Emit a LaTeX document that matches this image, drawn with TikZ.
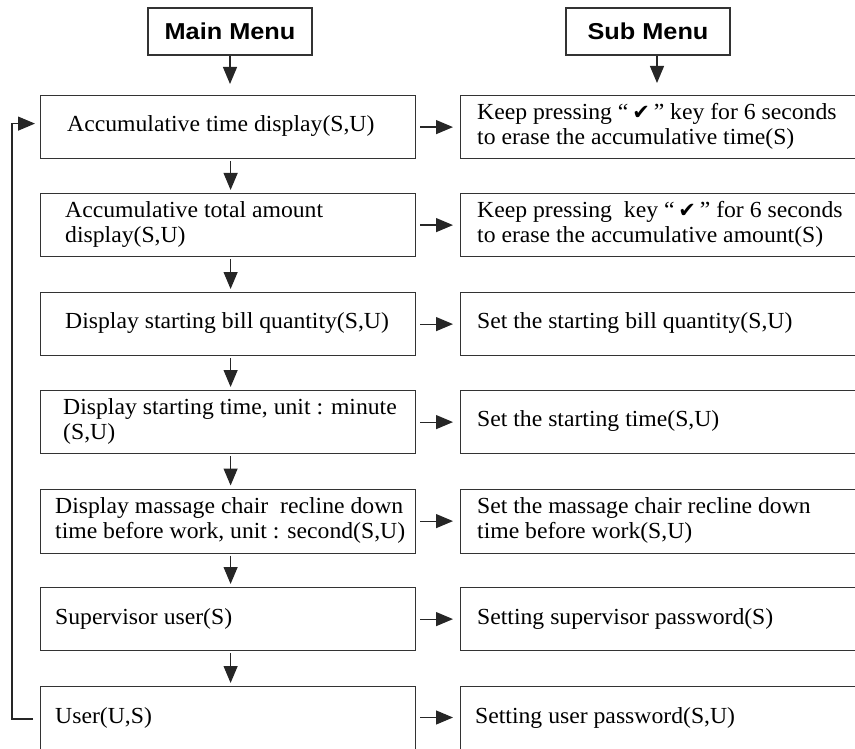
\documentclass[tikz,border=0pt]{standalone}
\usepackage{fontspec}
\setmainfont{Liberation Serif}[FakeStretch=1.03]
\newfontfamily\titlefont{Liberation Sans}[FakeStretch=1.1]
\newfontfamily\symfont{DejaVu Sans}
\usetikzlibrary{arrows.meta}
\newcommand{\ckmark}{“\,{\symfont\fontsize{21}{25}\selectfont ✔}\,”}
\begin{document}
\begin{tikzpicture}[x=1pt,y=-1pt,
  box/.style={draw=black!80, line width=1.2pt, minimum width=375pt, minimum height=63pt, inner sep=0pt, anchor=north west},
  rbox/.style={box, minimum width=420pt},
  ttl/.style={draw=black!80, line width=1.2pt, minimum width=164pt, minimum height=47pt, inner sep=0pt, font=\titlefont\bfseries\fontsize{23}{27}\selectfont},
  txt/.style={anchor=west, align=left, inner sep=0pt, font=\fontsize{23}{25.5}\selectfont},
  arr/.style={draw=black!85, line width=1.2pt, -{Triangle[length=17pt,width=14pt]}},
]
\useasboundingbox (0,0) rectangle (855,749);
\clip (0,0) rectangle (855,749);

% titles
\node[ttl] (M) at (230,31.5) {Main Menu};
\node[ttl] (S) at (648,31.5) {Sub Menu};

% left boxes
\node[box] (L1) at (40,95) {};
\node[box] (L2) at (40,193) {};
\node[box] (L3) at (40,292) {};
\node[box] (L4) at (40,390) {};
\node[box, minimum height=64pt] (L5) at (40,488.5) {};
\node[box] (L6) at (40,587) {};
\node[box, minimum height=75pt] (L7) at (40,686) {};

% right boxes
\node[rbox] (R1) at (460,95) {};
\node[rbox] (R2) at (460,193) {};
\node[rbox] (R3) at (460,292) {};
\node[rbox] (R4) at (460,390) {};
\node[rbox, minimum height=64pt] (R5) at (460,488.5) {};
\node[rbox] (R6) at (460,587) {};
\node[rbox, minimum height=75pt] (R7) at (460,686) {};

% left texts
\node[txt] (L1t) at (67,126.5) {Accumulative time display(S,U)};
\node[txt] (L2t) at (65,224.5) {Accumulative total amount\\display(S,U)};
\node[txt] (L3t) at (65,323.5) {Display starting bill quantity(S,U)};
\node[txt] (L4t) at (63,421.5) {Display starting time, unit : minute\\(S,U)};
\node[txt] (L5t) at (55,520.5) {Display massage chair\ \ recline down\\time before work, unit : second(S,U)};
\node[txt] (L6t) at (55,618.5) {Supervisor user(S)};
\node[txt] (L7t) at (55,717.5) {User(U,S)};

% right texts
\node[txt] (R1t) at (477,126.5) {Keep pressing\ \ckmark\ key for 6 seconds\\to erase the accumulative time(S)};
\node[txt] (R2t) at (477,224.5) {Keep pressing\ \ key\ \ckmark\ for 6 seconds\\to erase the accumulative amount(S)};
\node[txt] (R3t) at (477,323.5) {Set the starting bill quantity(S,U)};
\node[txt] (R4t) at (477,421.5) {Set the starting time(S,U)};
\node[txt] (R5t) at (477,520.5) {Set the massage chair recline down\\time before work(S,U)};
\node[txt] (R6t) at (477,618.5) {Setting supervisor password(S)};
\node[txt] (R7t) at (475,717.5) {Setting user password(S,U)};

% title arrows
\draw[arr, shorten >=11pt] (M.south) -- (M.south |- L1.north);
\draw[arr, shorten >=12pt] ([xshift=9pt]S.south) -- ([xshift=9pt]S.south |- R1.north);

% down arrows
\foreach \a/\b in {L1/L2,L2/L3,L3/L4,L4/L5,L5/L6,L6/L7}
  \draw[arr, shorten <=2pt, shorten >=3pt] ([xshift=2.5pt]\a.south) -- ([xshift=2.5pt]\a.south |- \b.north);

% horizontal arrows
\draw[arr, shorten <=4pt, shorten >=7pt] (L1.east) -- (L1.east -| R1.west);
\draw[arr, shorten <=4pt, shorten >=7pt] (L2.east) -- (L2.east -| R2.west);
\draw[arr, shorten <=4pt, shorten >=7pt] (L3.east) -- (L3.east -| R3.west);
\draw[arr, shorten <=4pt, shorten >=7pt] (L4.east) -- (L4.east -| R4.west);
\draw[arr, shorten <=4pt, shorten >=7pt] (L5.east) -- (L5.east -| R5.west);
\draw[arr, shorten <=4pt, shorten >=7pt] (L6.east) -- (L6.east -| R6.west);
\draw[arr, shorten <=4pt, shorten >=7pt] (L7t.east -| L7.east) -- (L7t.east -| R7.west);

% feedback loop
\coordinate (fbE) at (33,719);
\coordinate (fbB) at (12,719);
\draw[arr, shorten >=5pt] (fbE) -- (fbB) |- ([yshift=3.5pt]L1.west);
\end{tikzpicture}
\end{document}
